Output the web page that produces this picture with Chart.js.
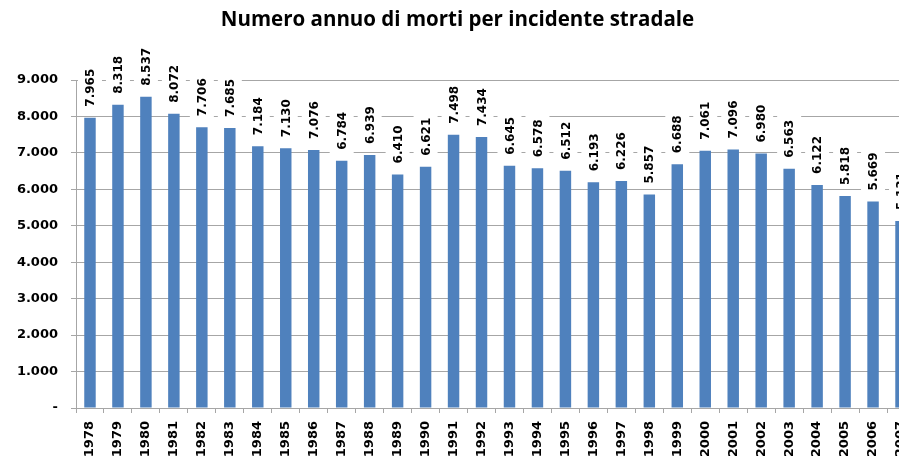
<!DOCTYPE html>
<html>
<head>
<meta charset="utf-8">
<script src="https://cdn.jsdelivr.net/npm/chart.js@4"></script>
<style>
  html, body { margin: 0; padding: 0; background: #fff; overflow: hidden; }
  #wrap { position: relative; width: 934px; height: 470px; }
</style>
</head>
<body>
<div id="wrap"><canvas id="chart"></canvas></div>
<script>
const years = ['1978','1979','1980','1981','1982','1983','1984','1985','1986','1987',
  '1988','1989','1990','1991','1992','1993','1994','1995','1996','1997',
  '1998','1999','2000','2001','2002','2003','2004','2005','2006','2007'];
const deaths = [7965, 8318, 8537, 8072, 7706, 7685, 7184, 7130, 7076, 6784,
  6939, 6410, 6621, 7498, 7434, 6645, 6578, 6512, 6193, 6226,
  5857, 6688, 7061, 7096, 6980, 6563, 6122, 5818, 5669, 5131];
const yTicks = [0, 1000, 2000, 3000, 4000, 5000, 6000, 7000, 8000, 9000];

const fmt = v => String(v).replace(/\B(?=(\d{3})+(?!\d))/g, '.');
const gridColor = '#a6a6a6';

// rotated value labels with a white box behind, like the Excel data labels
const valueLabels = {
  id: 'valueLabels',
  afterDatasetsDraw(chart) {
    const ctx = chart.ctx;
    const meta = chart.getDatasetMeta(0);
    ctx.save();
    ctx.font = 'bold 12px "DejaVu Sans"';
    meta.data.forEach((bar, i) => {
      const txt = fmt(deaths[i]);
      const w = ctx.measureText(txt).width;
      const bottom = bar.y - 7;
      ctx.fillStyle = '#fff';
      ctx.fillRect(bar.x - 12, bottom - w - 8, 24, w + 8);
      ctx.translate(bar.x, bottom - 4);
      ctx.rotate(-Math.PI / 2);
      ctx.fillStyle = '#000';
      ctx.textAlign = 'left';
      ctx.textBaseline = 'middle';
      ctx.fillText(txt, 0, 1);
      ctx.setTransform(1, 0, 0, 1, 0, 0);
    });
    ctx.restore();
  }
};

new Chart(document.getElementById('chart'), {
  type: 'bar',
  data: {
    labels: years,
    datasets: [{
      data: deaths,
      backgroundColor: '#4f81bd',
      categoryPercentage: 1,
      barPercentage: 0.41
    }]
  },
  options: {
    responsive: true,
    maintainAspectRatio: false,
    animation: false,
    layout: { padding: { top: 8, right: 19, left: 0, bottom: 0 } },
    plugins: {
      legend: { display: false },
      tooltip: { enabled: false },
      title: {
        display: true,
        text: 'Numero annuo di morti per incidente stradale',
        color: '#000',
        font: { family: '"Open Sans"', size: 20.5, weight: 'bold' },
        padding: { top: 0, bottom: 47.4 }
      }
    },
    scales: {
      x: {
        afterFit: s => { s.height = 62; },
        grid: { drawOnChartArea: false, drawTicks: true, tickLength: 5, color: gridColor, offset: true },
        border: { display: true, color: gridColor },
        ticks: {
          autoSkip: false, maxRotation: 90, minRotation: 90, padding: 8,
          color: '#000', font: { family: '"DejaVu Sans"', size: 13, weight: 'bold' }
        }
      },
      y: {
        min: 0,
        max: 9000,
        afterFit: s => { s.width = 76; },
        afterBuildTicks: s => { s.ticks = yTicks.map(v => ({ value: v })); },
        grid: { color: gridColor, tickLength: 5 },
        border: { display: true, color: gridColor },
        ticks: {
          padding: 13,
          color: '#000',
          font: { family: '"DejaVu Sans"', size: 13, weight: 'bold' },
          callback: v => v === 0 ? '-' : fmt(v)
        }
      }
    }
  },
  plugins: [valueLabels]
});
</script>
</body>
</html>
